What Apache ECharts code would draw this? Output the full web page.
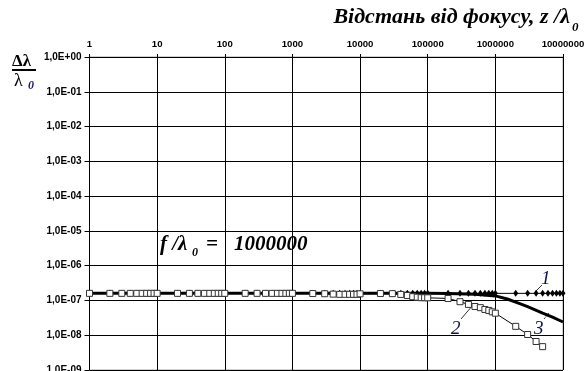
<!DOCTYPE html>
<html><head><meta charset="utf-8">
<script src="https://cdn.jsdelivr.net/npm/echarts@6/dist/echarts.min.js"></script>
<style>html,body{margin:0;padding:0;background:#fff}#c{width:584px;height:371px}</style>
</head><body><div id="c"></div>
<script>
const xTickLabels = ['1','10','100','1000','10000','100000','1000000','10000000'];
const yTickLabels = ['1,0E-09','1,0E-08','1,0E-07','1,0E-06','1,0E-05','1,0E-04','1,0E-03','1,0E-02','1,0E-01','1,0E+00'];

// Series 1 (diamonds)
const s1X = [1,2,3,4,5,6,7,8,9,10,20,30,40,50,60,70,80,90,100,200,300,400,500,600,700,800,900,
  1000,2000,3000,4000,5000,6000,7000,8000,9000,10000,20000,30000,40000,50000,60000,70000,80000,90000,
  100000,200000,300000,400000,500000,600000,700000,800000,900000,
  1000000,2000000,3000000,4000000,5000000,6000000,7000000,8000000,9000000,10000000];
const s1Y = [1.6e-7,1.6e-7,1.6e-7,1.6e-7,1.6e-7,1.6e-7,1.6e-7,1.6e-7,1.6e-7,
  1.6e-7,1.6e-7,1.6e-7,1.6e-7,1.6e-7,1.6e-7,1.6e-7,1.6e-7,1.6e-7,
  1.6e-7,1.6e-7,1.6e-7,1.6e-7,1.6e-7,1.6e-7,1.6e-7,1.6e-7,1.6e-7,
  1.6e-7,1.6e-7,1.6e-7,1.6e-7,1.6e-7,1.6e-7,1.6e-7,1.6e-7,1.6e-7,
  1.6e-7,1.6e-7,1.6e-7,1.6e-7,1.6e-7,1.6e-7,1.6e-7,1.6e-7,1.6e-7,
  1.6e-7,1.6e-7,1.6e-7,1.6e-7,1.6e-7,1.6e-7,1.6e-7,1.6e-7,1.6e-7,
  1.6e-7,1.6e-7,1.6e-7,1.6e-7,1.6e-7,1.6e-7,1.6e-7,1.6e-7,1.6e-7,1.6e-7];

// Series 2 (open squares)
const s2X = [1,2,3,4,5,6,7,8,9,10,20,30,40,50,60,70,80,90,100,200,300,400,500,600,700,800,900,
  1000,2000,3000,4000,5000,6000,7000,8000,9000,10000,20000,30000,40000,50000,60000,70000,80000,90000,
  100000,200000,300000,400000,500000,600000,700000,800000,900000,
  1000000,2000000,3000000,4000000,5000000];
const s2Y = [1.6e-7,1.6e-7,1.6e-7,1.6e-7,1.6e-7,1.6e-7,1.6e-7,1.6e-7,1.6e-7,
  1.6e-7,1.6e-7,1.6e-7,1.6e-7,1.6e-7,1.6e-7,1.6e-7,1.6e-7,1.6e-7,
  1.6e-7,1.6e-7,1.6e-7,1.6e-7,1.6e-7,1.6e-7,1.6e-7,1.6e-7,1.6e-7,
  1.6e-7,1.58e-7,1.56e-7,1.52e-7,1.5e-7,1.5e-7,1.5e-7,1.5e-7,1.5e-7,
  1.55e-7,1.58e-7,1.57e-7,1.49e-7,1.39e-7,1.28e-7,1.24e-7,1.2e-7,1.2e-7,
  1.19e-7,1.14e-7,9.2e-8,7.7e-8,6.7e-8,6.2e-8,5.5e-8,5.15e-8,4.7e-8,
  4.3e-8,1.8e-8,1.05e-8,6.6e-9,4.7e-9];

// Series 3 (thick line)
const s3X = [1,10,100,1000,10000,100000,200000,500000,1000000,1500000,2000000,3000000,5000000,7000000,10000000];
const s3Y = [1.62e-7,1.62e-7,1.62e-7,1.62e-7,1.62e-7,1.62e-7,1.58e-7,1.5e-7,1.35e-7,1.1e-7,8.9e-8,6.6e-8,4.3e-8,3.3e-8,2.4e-8];

const zip = (a, b) => a.map((v, i) => [v, b[i]]);
const lblFont = {fontFamily: 'Liberation Sans, Arial', fontWeight: 'bold', fontSize: 9.6, color: '#000'};
const serif = 'Liberation Serif, Times New Roman, serif';

const chart = echarts.init(document.getElementById('c'), null, {renderer: 'canvas'});
chart.setOption({
  animation: false,
  backgroundColor: '#fff',
  grid: {left: 89.5, right: 21, top: 57, bottom: 1, outerBoundsMode: 'none', containLabel: false,
    show: true, borderColor: '#a0a0a0', borderWidth: 1, backgroundColor: 'transparent'},
  xAxis: {
    type: 'log', logBase: 10, min: 1, max: 10000000, interval: 1, position: 'top',
    axisLine: {show: true, onZero: false, lineStyle: {color: '#000', width: 1}},
    axisTick: {show: true, length: 3, inside: false, lineStyle: {color: '#000'}},
    minorTick: {show: false},
    splitLine: {show: true, lineStyle: {color: '#000', width: 1}},
    axisLabel: Object.assign({}, lblFont, {margin: 8, formatter: v => xTickLabels[Math.round(Math.log10(v))]})
  },
  yAxis: {
    type: 'log', logBase: 10, min: 1e-9, max: 1, interval: 1,
    axisLine: {show: true, onZero: false, lineStyle: {color: '#000', width: 1}},
    axisTick: {show: true, length: 5, lineStyle: {color: '#000'}},
    splitLine: {show: true, lineStyle: {color: '#000', width: 1}},
    axisLabel: Object.assign({}, lblFont, {fontSize: 10, margin: 8, formatter: v => yTickLabels[Math.round(Math.log10(v)) + 9]})
  },
  series: [
    {type: 'line', name: '1', data: zip(s1X, s1Y), symbol: 'diamond', symbolSize: [5, 7], showAllSymbol: true,
      lineStyle: {color: '#000', width: 1}, itemStyle: {color: '#000', borderWidth: 0}, z: 2},
    {type: 'line', name: '3', data: zip(s3X, s3Y), symbol: 'none', lineStyle: {color: '#000', width: 3}, z: 3},
    {type: 'line', name: '2', data: zip(s2X, s2Y), symbol: 'rect', symbolSize: 6, showAllSymbol: true,
      lineStyle: {color: '#000', width: 1}, itemStyle: {color: '#fff', borderColor: '#333', borderWidth: 1}, z: 4}
  ],
  graphic: [
    {type: 'text', right: 14, top: 6, style: {text: 'Відстань від фокусу, z /λ', font: 'italic bold 22px ' + serif, fill: '#000'}},
    {type: 'text', x: 572, y: 21, style: {text: '0', font: 'italic bold 13px ' + serif, fill: '#000'}},
    {type: 'text', x: 12, y: 53, style: {text: 'Δλ', font: 'bold 17px ' + serif, fill: '#000'}},
    {type: 'line', shape: {x1: 12, y1: 70, x2: 36, y2: 70}, style: {stroke: '#000', lineWidth: 2}},
    {type: 'text', x: 14, y: 72, style: {text: 'λ', font: '18px ' + serif, fill: '#000'}},
    {type: 'text', x: 28, y: 80, style: {text: '0', font: 'italic bold 12px ' + serif, fill: '#1a1a60'}},
    {type: 'text', x: 160, y: 234, style: {text: 'f /λ', font: 'italic bold 21px ' + serif, fill: '#000'}},
    {type: 'text', x: 192, y: 247, style: {text: '0', font: 'italic bold 12px ' + serif, fill: '#000'}},
    {type: 'text', x: 206, y: 234, style: {text: '=', font: 'italic bold 21px ' + serif, fill: '#000'}},
    {type: 'text', x: 234, y: 234, style: {text: '1000000', font: 'italic bold 21px ' + serif, fill: '#000'}},
    {type: 'text', x: 541, y: 269, style: {text: '1', font: 'italic 19px ' + serif, fill: '#10104a'}},
    {type: 'line', shape: {x1: 542, y1: 285, x2: 535, y2: 292}, style: {stroke: '#000', lineWidth: 0.8}},
    {type: 'text', x: 451, y: 319, style: {text: '2', font: 'italic 19px ' + serif, fill: '#10104a'}},
    {type: 'line', shape: {x1: 461, y1: 319, x2: 473, y2: 305}, style: {stroke: '#000', lineWidth: 0.8}},
    {type: 'text', x: 534, y: 319, style: {text: '3', font: 'italic 19px ' + serif, fill: '#10104a'}},
    {type: 'line', shape: {x1: 544, y1: 319, x2: 549, y2: 313}, style: {stroke: '#000', lineWidth: 0.8, lineDash: [2, 1]}}
  ]
});
</script></body></html>
